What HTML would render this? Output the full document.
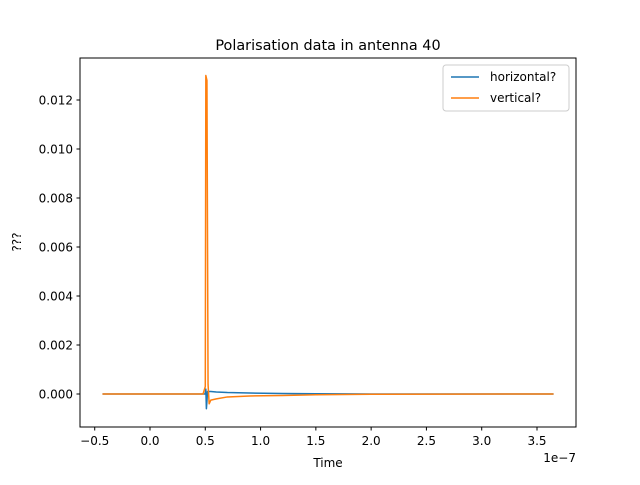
<!DOCTYPE html>
<html><head><meta charset="utf-8"><style>
body{margin:0;background:#fff}
svg{font-family:"DejaVu Sans","Liberation Sans",sans-serif}
</style></head><body>
<svg id="chart" width="640" height="480" xmlns="http://www.w3.org/2000/svg">
<rect x="0" y="0" width="640" height="480" fill="#fff"/>
<text x="328" y="50" font-size="14.4" text-anchor="middle">Polarisation data in antenna 40</text>
<g id="plot"></g>
<rect x="80" y="58" width="496" height="369" fill="none" stroke="#000" stroke-width="1"/>
<text x="328" y="467" font-size="12" text-anchor="middle">Time</text>
<text x="21" y="242" font-size="12" text-anchor="middle" transform="rotate(-90 21 242)">???</text>
<text x="576" y="462" font-size="12" text-anchor="end">1e−7</text>
<g>
<rect x="443" y="65" width="126" height="46" rx="3" fill="#fff" fill-opacity="0.8" stroke="#ccc"/>
<line x1="451" y1="77" x2="479" y2="77" stroke="#1f77b4" stroke-width="1.5"/>
<text x="490" y="81" font-size="12">horizontal?</text>
<line x1="451" y1="98" x2="479" y2="98" stroke="#ff7f0e" stroke-width="1.5"/>
<text x="490" y="102" font-size="12">vertical?</text>
</g>
</svg>
<script>
const xTicks=[-0.5,0.0,0.5,1.0,1.5,2.0,2.5,3.0,3.5];
const xTickLabels=["−0.5","0.0","0.5","1.0","1.5","2.0","2.5","3.0","3.5"];
const yTicks=[0,0.002,0.004,0.006,0.008,0.010,0.012];
const yTickLabels=["0.000","0.002","0.004","0.006","0.008","0.010","0.012"];
const hTimes=[-0.43,0.50,0.505,0.51,0.515,0.52,0.53,0.55,0.6,0.7,0.9,1.2,1.5,2.0,3.65];
const hValues=[0,0,0.0002,-0.0006,-0.0003,0.0001,0.0001,0.0001,0.00008,0.00006,0.00004,0.00002,0.00001,0,0];
const vTimes=[-0.43,0.48,0.50,0.505,0.515,0.525,0.535,0.55,0.6,0.7,0.9,1.2,1.5,2.0,3.65];
const vValues=[0,0,0.0003,0.0130,0.0128,0.0004,-0.0004,-0.00025,-0.0002,-0.00012,-0.00008,-0.00006,-0.00003,-0.00001,0];
const NS="http://www.w3.org/2000/svg";
const xs=v=>150+v*110.57;
const ys=v=>394-v*24500;
const g=document.getElementById('plot');
function mk(t,a){const e=document.createElementNS(NS,t);for(const k in a)e.setAttribute(k,a[k]);g.appendChild(e);return e;}
xTicks.forEach((t,i)=>{
 const l=mk('line',{x1:xs(t),x2:xs(t),y1:427,y2:430.5,stroke:'#000'});
 
 
 const tx=mk('text',{x:xs(t),y:445,'font-size':12,'text-anchor':'middle'});
 tx.textContent=xTickLabels[i];
 
 
});
yTicks.forEach((t,i)=>{
 const l=mk('line',{x1:76.5,x2:80,y1:ys(t),y2:ys(t),stroke:'#000'});
 
 
 const tx=mk('text',{x:73,y:ys(t)+4.5,'font-size':12,'text-anchor':'end'});
 tx.textContent=yTickLabels[i];
 
 
});
function series(T,V,c,name){
 const p=mk('polyline',{points:T.map((t,i)=>xs(t)+','+ys(V[i])).join(' '),fill:'none',stroke:c,'stroke-width':1.5,'stroke-linejoin':'round'});
 
 
}
series(hTimes,hValues,'#1f77b4','horizontal-series');
series(vTimes,vValues,'#ff7f0e','vertical-series');
</script>
</body></html>
